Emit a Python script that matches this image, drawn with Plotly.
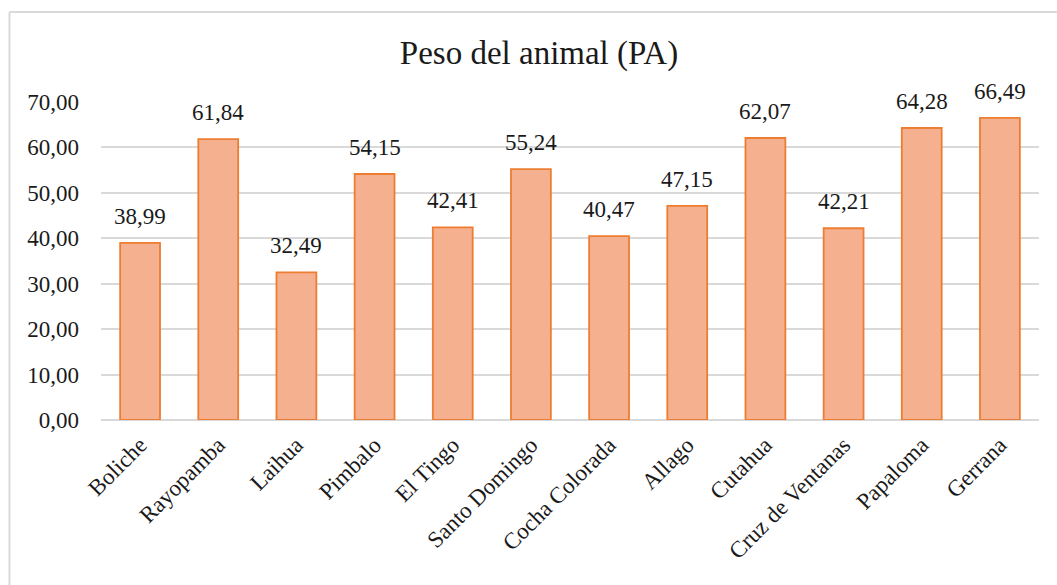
import plotly.graph_objects as go

categories = ["Boliche", "Rayopamba", "Laihua", "Pimbalo", "El Tingo", "Santo Domingo",
              "Cocha Colorada", "Allago", "Cutahua", "Cruz de Ventanas", "Papaloma", "Gerrana"]
values = [38.99, 61.84, 32.49, 54.15, 42.41, 55.24, 40.47, 47.15, 62.07, 42.21, 64.28, 66.49]
tick_values = [0, 10, 20, 30, 40, 50, 60, 70]
title_text = "Peso del animal (PA)"

FONT = "Liberation Serif, Times New Roman, serif"

fig = go.Figure()
fig.add_trace(go.Bar(
    x=categories, y=values,
    marker=dict(color="#F5B08F", line=dict(color="#ED7D31", width=1.8)),
    width=0.51,
    hoverinfo="skip",
))

for c, v in zip(categories, values):
    fig.add_annotation(x=c, y=v, text=f"{v:.2f}".replace(".", ","), showarrow=False,
                       yanchor="bottom", yshift=12, font=dict(family=FONT, size=23, color="#1a1a1a"))

W, H = 1057, 585
ml, mr, mt, mb = 101, 18, 102, 165
pw, ph = W - ml - mr, H - mt - mb

def px_x(p):
    return (p - ml) / pw

def px_y(p):
    return (H - mb - p) / ph

# chart border (Excel chart area)
fig.add_shape(type="line", xref="paper", yref="paper", x0=px_x(9.5), x1=px_x(1060),
              y0=px_y(12), y1=px_y(12), line=dict(color="#D9D9D9", width=2), layer="below")
fig.add_shape(type="line", xref="paper", yref="paper", x0=px_x(9.5), x1=px_x(9.5),
              y0=px_y(12), y1=px_y(590), line=dict(color="#D9D9D9", width=2), layer="below")

fig.update_layout(
    width=W, height=H,
    margin=dict(l=ml, r=mr, t=mt, b=mb),
    paper_bgcolor="white", plot_bgcolor="white",
    separators=",.",
    showlegend=False,
    bargap=0.49,
    font=dict(family=FONT, size=23, color="#1a1a1a"),
    title=dict(text=title_text, x=539 / W, xanchor="center", xref="container",
               y=1 - 52 / H, yanchor="middle", yref="container",
               font=dict(family=FONT, size=33, color="#1a1a1a")),
    xaxis=dict(tickangle=-45, showgrid=False, showline=False, ticks="",
               ticklabelstandoff=6,
               tickfont=dict(family=FONT, size=23, color="#1a1a1a")),
    yaxis=dict(range=[0, 70], tickvals=tick_values, tickformat=".2f",
               showgrid=True, gridcolor="#D9D9D9", gridwidth=1.5,
               zeroline=True, zerolinecolor="#D9D9D9", zerolinewidth=1.5,
               showline=False, ticks="", ticklabelstandoff=21,
               tickfont=dict(family=FONT, size=23, color="#1a1a1a")),
)

fig.write_html("out.html", config={"displayModeBar": False},
               post_script="document.body.style.margin='0';")
